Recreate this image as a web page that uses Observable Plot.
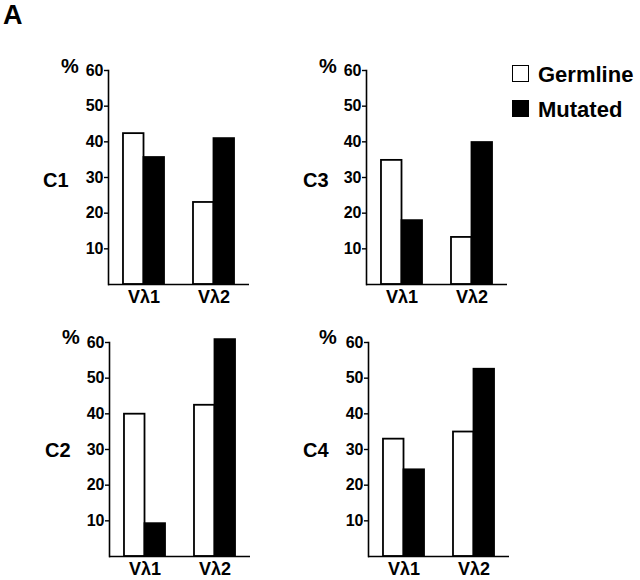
<!DOCTYPE html>
<html>
<head>
<meta charset="utf-8">
<script src="https://cdn.jsdelivr.net/npm/d3@7"></script>
<script src="https://cdn.jsdelivr.net/npm/@observablehq/plot@0.6"></script>
<style>
  html, body { margin: 0; padding: 0; background: #fff; }
  #root { position: relative; width: 640px; height: 580px; overflow: hidden;
          font-family: "Liberation Sans", Arial, Helvetica, sans-serif; font-weight: bold; color: #000; }
  .lbl { position: absolute; line-height: 1; white-space: nowrap; }
  .panel { position: absolute; }
  .sw { position: absolute; width: 15px; height: 15px; border: 1.5px solid #000; }
</style>
</head>
<body>
<div id="root"></div>
<script>
// ---- data ----
const groups = ["Vλ1", "Vλ2"];
const seriesNames = ["Germline", "Mutated"];
const panelNames = ["C1", "C3", "C2", "C4"];
const yTicks = [10, 20, 30, 40, 50, 60];

const c1Germline = [42.3, 23.0];
const c1Mutated  = [35.6, 40.9];
const c3Germline = [34.8, 13.2];
const c3Mutated  = [17.9, 39.8];
const c2Germline = [39.9, 42.4];
const c2Mutated  = [9.2, 60.8];
const c4Germline = [32.9, 34.9];
const c4Mutated  = [24.3, 52.5];

const panelData = {
  C1: [c1Germline, c1Mutated],
  C3: [c3Germline, c3Mutated],
  C2: [c2Germline, c2Mutated],
  C4: [c4Germline, c4Mutated]
};

// ---- layout ----
const FONT = '"Liberation Sans", Arial, Helvetica, sans-serif';
const panelPos = {
  C1: {left: 60,  top: 50,  labelLeft: 43,  pctLeft: 61},
  C3: {left: 318, top: 50,  labelLeft: 303, pctLeft: 319},
  C2: {left: 61,  top: 322, labelLeft: 45,  pctLeft: 62},
  C4: {left: 320, top: 322, labelLeft: 303, pctLeft: 319}
};

const root = document.getElementById("root");

function addLabel(text, left, top, size) {
  const d = document.createElement("div");
  d.className = "lbl";
  d.textContent = text;
  d.style.left = left + "px";
  d.style.top = top + "px";
  d.style.fontSize = size + "px";
  root.appendChild(d);
  return d;
}

function makePanel(name) {
  const [germ, mut] = panelData[name];
  const rows = [];
  groups.forEach((g, i) => {
    rows.push({group: g, series: seriesNames[0], value: germ[i]});
    rows.push({group: g, series: seriesNames[1], value: mut[i]});
  });
  const half = 20.5;
  return Plot.plot({
    width: 200,
    height: 260,
    marginLeft: 48,
    marginRight: 11,
    marginTop: 20,
    marginBottom: 26,
    style: {fontFamily: FONT, fontWeight: "bold", background: "transparent", overflow: "visible", color: "#000"},
    x: {domain: groups, paddingInner: 0.414, paddingOuter: 0.214, round: false},
    y: {domain: [0, 60]},
    marks: [
      Plot.barY(rows.filter(d => d.series === "Germline"), {
        x: "group", y: "value", fill: "white", stroke: "black", strokeWidth: 1.8, insetRight: half
      }),
      Plot.barY(rows.filter(d => d.series === "Mutated"), {
        x: "group", y: "value", fill: "black", stroke: "black", strokeWidth: 1.8, insetLeft: half
      }),
      Plot.ruleY([0], {stroke: "black", strokeWidth: 1.6}),
      Plot.frame({anchor: "left", stroke: "black", strokeWidth: 1.6}),
      Plot.axisY({ticks: yTicks, tickSize: 4, tickPadding: 1, fontSize: 16, fontWeight: "bold", label: null, strokeWidth: 1.4}),
      Plot.axisX({tickSize: 0, tickPadding: 6, fontSize: 18, fontWeight: "bold", label: null})
    ]
  });
}

panelNames.forEach(name => {
  const p = panelPos[name];
  const svg = makePanel(name);
  const wrap = document.createElement("div");
  wrap.className = "panel";
  wrap.style.left = p.left + "px";
  wrap.style.top = p.top + "px";
  wrap.appendChild(svg);
  root.appendChild(wrap);
  const topRow = p.top < 200;
  addLabel("%", p.pctLeft, topRow ? 56 : 327, 20);
  addLabel(name, p.labelLeft, topRow ? 170 : 440, 20);
});

// panel letter
const a = addLabel("A", 3, 0, 27);
a.style.lineHeight = "normal";

// legend
const legendFill = {Germline: "#fff", Mutated: "#000"};
const legendTop = {Germline: 65, Mutated: 100};
seriesNames.forEach(s => {
  const sw = document.createElement("div");
  sw.className = "sw";
  sw.style.left = "512px";
  sw.style.top = legendTop[s] + "px";
  sw.style.background = legendFill[s];
  root.appendChild(sw);
  addLabel(s, 538, legendTop[s] - 1, 22);
});
</script>
</body>
</html>
